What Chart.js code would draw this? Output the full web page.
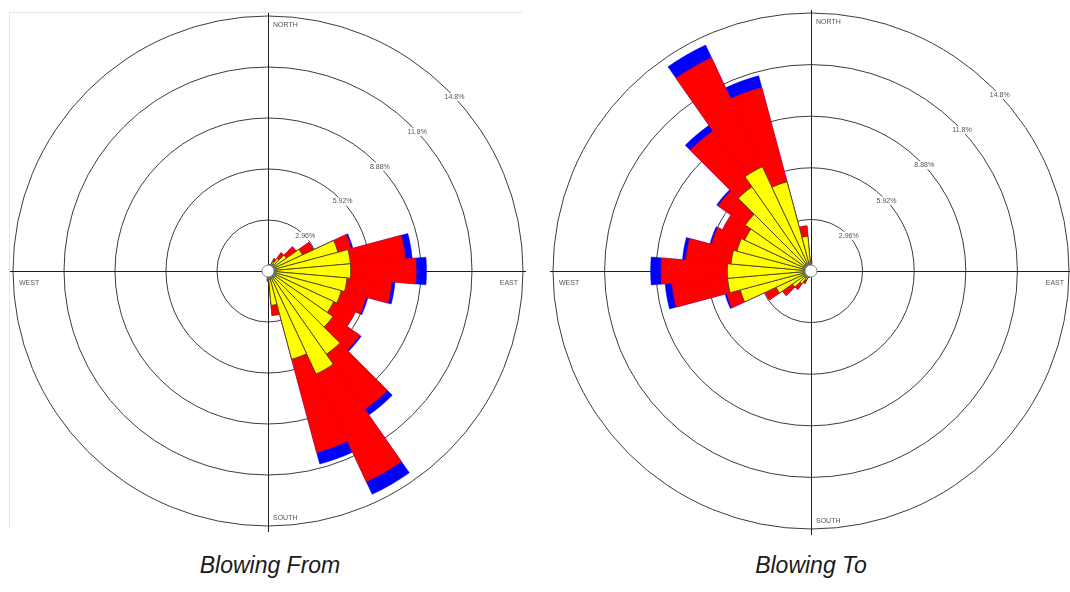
<!DOCTYPE html>
<html><head><meta charset="utf-8">
<script src="https://cdn.jsdelivr.net/npm/chart.js@4.4.1/dist/chart.umd.min.js"></script>
<style>
html,body{margin:0;padding:0;background:#fff;overflow:hidden;width:1070px;height:592px;position:relative;font-family:"Liberation Sans",Arial,sans-serif}
#frameL{position:absolute;left:9px;top:12px;width:512px;height:514px;border-left:1px solid #e6e6e6;border-top:1px solid #e6e6e6}
canvas{position:absolute}
#cL{left:3px;top:6px}
#cR{left:543px;top:3px}
.title{position:absolute;top:552px;font-style:italic;font-size:23px;color:#1a1a1a;width:300px;text-align:center}
</style></head><body>
<div id="frameL"></div>
<canvas id="cL" width="530" height="530"></canvas>
<canvas id="cR" width="536" height="536"></canvas>
<div class="title" style="left:120px">Blowing From</div>
<div class="title" style="left:661px">Blowing To</div>
<script>
// 36 direction sectors (degrees, direction the wind blows FROM)
const directions = ['0','10','20','30','40','50','60','70','80','90','100','110','120','130','140','150','160','170',
                    '180','190','200','210','220','230','240','250','260','270','280','290','300','310','320','330','340','350'];
// frequency (%) of each wind-speed class per sector
const speedClassGray   = [0.3,0.3,0.3,0.4,0.5,0.5,0.5,0.5,0.5,0.5,0.5,0.5,0.5,0.5,0.5,0.5,0.5,0.5,0.3,0.2,0.2,0.2,0.2,0.2,0.2,0.2,0.2,0.2,0.2,0.2,0.2,0.2,0.2,0.2,0.2,0.2];
const speedClassYellow = [0,0,0.1,0.2,0.4,0.8,1.7,3.7,4.3,4.3,4.1,3.9,3.7,4.1,5.4,6.1,4.8,1.5,0.2,0,0,0,0,0,0,0,0,0,0,0,0,0,0,0,0,0];
const speedClassRed    = [0,0,0,0.2,0.4,0.7,0.7,0.8,3.2,3.8,2.6,1.5,1.4,1.9,3.9,6.9,5.6,0.6,0.1,0,0,0,0,0,0,0,0,0,0,0,0,0,0,0,0,0];
const speedClassBlue   = [0,0,0,0,0,0,0,0.1,0.4,0.6,0.2,0.1,0,0.1,0.4,0.8,0.7,0,0,0,0,0,0,0,0,0,0,0,0,0,0,0,0,0];
// rings
const ringValues = [2.96, 5.92, 8.88, 11.84, 14.8];
const ringLabels = ['2.96%', '5.92%', '8.88%', '11.8%', '14.8%'];
const compassLabels = ['NORTH', 'EAST', 'SOUTH', 'WEST'];
const chartTitles = ['Blowing From', 'Blowing To'];

// stacked (cumulative) outer values per class, built from the class arrays
const cum1 = speedClassGray.slice();
const cum2 = cum1.map((v, i) => v + speedClassYellow[i]);
const cum3 = cum2.map((v, i) => v + speedClassRed[i]);
const cum4 = cum3.map((v, i) => v + speedClassBlue[i]);

const decor = {
  id: 'decor',
  beforeDatasetsDraw(chart) {
    const s = chart.scales.r, ctx = chart.ctx;
    const cx = s.xCenter, cy = s.yCenter, R = s.drawingArea;
    ctx.save();
    ctx.strokeStyle = '#1e1e1e'; ctx.lineWidth = 1;
    ctx.beginPath();
    ctx.moveTo(cx + 0.5, cy - R - 3); ctx.lineTo(cx + 0.5, cy + R + 6);
    ctx.moveTo(cx - R - 3, cy + 0.5); ctx.lineTo(cx + R + 3, cy + 0.5);
    ctx.stroke();
    ctx.restore();
  },
  afterDatasetsDraw(chart) {
    const s = chart.scales.r, ctx = chart.ctx;
    const cx = s.xCenter, cy = s.yCenter, R = s.drawingArea;
    ctx.save();
    ctx.font = '7px "Liberation Sans", Arial, sans-serif';
    ctx.fillStyle = '#555';
    ctx.textBaseline = 'middle';
    // ring labels at ~47 deg
    const a = 47 * Math.PI / 180;
    ringValues.forEach((v, i) => {
      const d = s.getDistanceFromCenterForValue(v);
      const x = cx + d * Math.sin(a), y = cy - d * Math.cos(a);
      const t = ringLabels[i];
      const w = ctx.measureText(t).width;
      ctx.fillStyle = '#fff';
      ctx.fillRect(x - w / 2 - 2, y - 4, w + 4, 8);
      ctx.fillStyle = '#555';
      ctx.textAlign = 'center';
      ctx.fillText(t, x, y);
    });
    // compass labels
    ctx.textAlign = 'left';
    ctx.fillText(compassLabels[0], cx + 5, cy - R + 9);
    ctx.fillText(compassLabels[2], cx + 5, cy + R - 8);
    ctx.fillText(compassLabels[3], cx - R + 6, cy + 12);
    ctx.textAlign = 'right';
    ctx.fillText(compassLabels[1], cx + R - 5, cy + 12);
    // calm circle
    ctx.beginPath();
    ctx.arc(cx, cy, 6, 0, Math.PI * 2);
    ctx.fillStyle = '#fff'; ctx.fill();
    ctx.strokeStyle = '#888'; ctx.lineWidth = 1; ctx.stroke();
    ctx.restore();
  }
};

function makeRose(id, startAngle) {
  const zeroW = (w) => (c) => (c.raw > 0.001 ? w : 0);
  return new Chart(document.getElementById(id), {
    type: 'polarArea',
    data: {
      labels: directions,
      datasets: [
        { label: 'class 1', data: cum1, backgroundColor: '#76806c', borderColor: '#5a6052', borderWidth: zeroW(0.5) },
        { label: 'class 2', data: cum2, backgroundColor: '#ffff00', borderColor: '#3a3a20', borderWidth: zeroW(0.8) },
        { label: 'class 3', data: cum3, backgroundColor: '#ff0000', borderColor: '#ff0000', borderWidth: zeroW(0.5) },
        { label: 'class 4', data: cum4, backgroundColor: '#0000ff', borderColor: '#0000ff', borderWidth: zeroW(0.5) }
      ]
    },
    options: {
      responsive: false,
      animation: false,
      layout: { padding: 10 },
      plugins: { legend: { display: false }, tooltip: { enabled: false }, title: { display: false } },
      scales: {
        r: {
          min: 0, max: 14.8,
          startAngle: startAngle,
          afterBuildTicks: (sc) => { sc.ticks = [0].concat(ringValues).map(v => ({ value: v })); },
          ticks: { display: false },
          grid: { circular: true, color: '#3c3c3c', lineWidth: 1 },
          angleLines: { display: false },
          pointLabels: { display: false }
        }
      }
    },
    plugins: [decor]
  });
}
makeRose('cL', -5);
makeRose('cR', 175);
</script>
</body></html>
